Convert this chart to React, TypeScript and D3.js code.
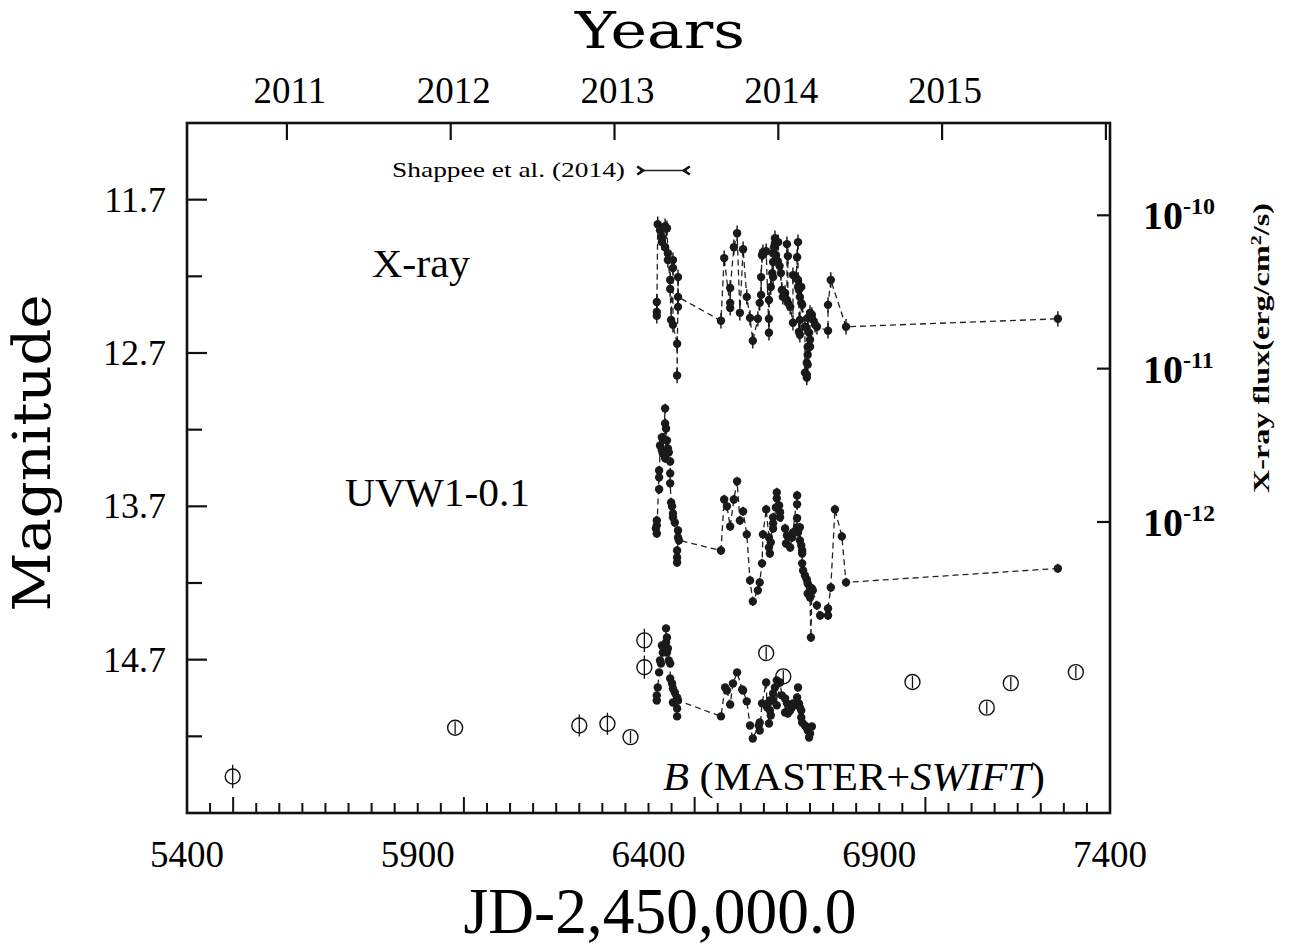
import * as d3 from "d3"
import React = require("react")

// X-ray light curve: [JD-2450000, log10 flux (erg/cm2/s)]
const xray: [number, number][] = [
  [6418, -10.565], [6418, -10.63], [6418, -10.656], [6420, -10.058], [6425, -10.097], [6429, -10.143],
  [6429, -10.175], [6436, -10.071], [6436, -10.208], [6440, -10.084], [6442, -10.247], [6442, -10.292],
  [6447, -10.422], [6447, -10.481], [6449, -10.682], [6453, -10.292], [6453, -10.344], [6453, -10.714],
  [6462, -10.838], [6462, -11.045], [6464, -10.403], [6464, -10.597], [6464, -10.532],
  [6557, -10.688], [6564, -10.279], [6577, -10.604], [6577, -10.571], [6577, -10.474], [6585, -10.208],
  [6592, -10.117], [6598, -10.636], [6605, -10.221], [6613, -10.532], [6620, -10.669], [6626, -10.818],
  [6637, -10.675], [6641, -10.571], [6644, -10.519], [6644, -10.403], [6646, -10.26], [6648, -10.24],
  [6655, -10.234], [6661, -10.766], [6661, -10.675], [6661, -10.552], [6665, -10.468], [6668, -10.377],
  [6670, -10.403], [6670, -10.305], [6670, -10.247], [6672, -10.208], [6674, -10.182], [6674, -10.149],
  [6676, -10.26], [6680, -10.3], [6681, -10.175], [6684, -10.33], [6687, -10.377], [6689, -10.487],
  [6691, -10.532], [6696, -10.506], [6700, -10.552], [6700, -10.188], [6702, -10.266], [6702, -10.571],
  [6707, -10.597], [6713, -10.701], [6713, -10.39], [6720, -10.409], [6722, -10.273], [6724, -10.175],
  [6724, -10.422], [6724, -10.468], [6726, -10.487], [6726, -10.76], [6728, -10.779], [6728, -10.682],
  [6728, -10.532], [6731, -10.468], [6731, -10.571], [6733, -10.584], [6739, -10.727], [6739, -11.026],
  [6743, -11.058], [6743, -11.039], [6743, -10.961], [6745, -10.974], [6745, -10.909], [6745, -10.857],
  [6745, -10.669], [6748, -10.766], [6750, -10.857], [6750, -10.812], [6750, -10.636], [6754, -10.649],
  [6756, -10.682], [6761, -10.714], [6765, -10.727], [6789, -10.753], [6789, -10.584], [6795, -10.422],
  [6828, -10.727], [7287, -10.675],
]

// UVW1 - 0.1 mag
const uvw1: [number, number][] = [
  [6416, 13.844], [6418, 13.792], [6418, 13.824], [6418, 13.877], [6423, 13.466], [6423, 13.511],
  [6423, 13.589], [6425, 13.303], [6429, 13.25], [6429, 13.335], [6431, 13.257], [6431, 13.355],
  [6436, 13.061], [6436, 13.159], [6436, 13.387], [6438, 13.192], [6440, 13.27], [6442, 13.322],
  [6444, 13.348], [6447, 13.407], [6447, 13.485], [6447, 13.55], [6449, 13.674], [6451, 13.7],
  [6453, 13.746], [6453, 13.772], [6457, 13.805], [6462, 13.988], [6462, 14.033], [6462, 14.066],
  [6464, 13.857], [6464, 13.903], [6466, 13.922],
  [6557, 13.988], [6564, 13.655], [6570, 13.7], [6577, 13.831], [6585, 13.655], [6592, 13.537],
  [6598, 13.792], [6605, 13.733], [6613, 13.883], [6620, 14.183], [6626, 14.32], [6637, 14.248],
  [6641, 14.196], [6646, 14.072], [6648, 13.883], [6655, 13.72], [6661, 13.903], [6661, 13.968],
  [6663, 14.007], [6665, 13.935], [6670, 13.772], [6670, 13.811], [6670, 13.844], [6676, 13.707],
  [6678, 13.609], [6678, 13.648], [6683, 13.694], [6685, 13.739], [6685, 13.772], [6696, 13.844],
  [6698, 13.942], [6700, 13.89], [6707, 13.968], [6711, 13.903], [6713, 13.87], [6722, 13.629],
  [6722, 13.687], [6722, 13.778], [6722, 13.837], [6724, 13.87], [6728, 13.837], [6728, 13.922],
  [6731, 13.955], [6733, 13.988], [6733, 14.007], [6733, 14.072], [6735, 14.118], [6739, 14.151],
  [6743, 14.177], [6745, 14.203], [6745, 14.268], [6750, 14.229], [6750, 14.294], [6752, 14.555],
  [6754, 14.235], [6756, 14.248], [6765, 14.346], [6772, 14.412], [6789, 14.412], [6789, 14.366],
  [6795, 14.229], [6804, 13.72], [6819, 13.896], [6828, 14.196], [7287, 14.105],
]

// B band (SWIFT + MASTER dense coverage)
const bBand: [number, number][] = [
  [6418, 14.933], [6418, 14.966], [6420, 14.881], [6423, 14.783], [6425, 14.705], [6427, 14.725],
  [6429, 14.607], [6431, 14.653], [6436, 14.62], [6438, 14.496], [6438, 14.588], [6440, 14.555],
  [6440, 14.653], [6442, 14.627], [6444, 14.705], [6447, 14.725], [6447, 14.823], [6451, 14.855],
  [6453, 14.888], [6453, 14.979], [6457, 14.914], [6462, 14.946], [6462, 15.018], [6462, 15.07],
  [6464, 14.966],
  [6557, 15.07], [6566, 14.881], [6570, 14.901], [6577, 14.992], [6583, 14.855], [6592, 14.783],
  [6603, 14.894], [6605, 14.901], [6613, 14.972], [6620, 15.129], [6626, 15.214], [6639, 15.129],
  [6641, 15.11], [6641, 15.162], [6646, 14.985], [6655, 14.849], [6657, 15.011], [6659, 14.985],
  [6661, 15.116], [6663, 14.966], [6663, 15.031], [6665, 15.064], [6670, 14.92], [6670, 14.966],
  [6674, 14.881], [6678, 14.835], [6678, 14.998], [6685, 14.849], [6689, 14.933], [6696, 14.953],
  [6696, 15.044], [6700, 14.985], [6702, 15.051], [6707, 15.031], [6711, 15.011], [6713, 14.985],
  [6722, 14.946], [6724, 14.881], [6726, 14.985], [6728, 15.011], [6731, 15.031], [6731, 15.077],
  [6733, 15.11], [6739, 15.129], [6743, 15.142], [6745, 15.162], [6748, 15.208], [6750, 15.181],
  [6754, 15.136],
]

// MASTER sparse points: [JD, mag, error]
const master: [number, number, number][] = [
  [5499, 15.462, 0.076], [5981, 15.144, 0.04], [6250, 15.129, 0.072], [6311, 15.118, 0.072],
  [6361, 15.205, 0.04], [6391, 14.574, 0.076], [6391, 14.749, 0.076], [6655, 14.657, 0.04],
  [6692, 14.809, 0.04], [6972, 14.846, 0.04], [7133, 15.013, 0.04], [7185, 14.853, 0.04],
  [7326, 14.781, 0.04],
]

const shappeeRange = [6382, 6483]
const shappeeMag = 11.51

const jdTicks = [5400, 5900, 6400, 6900, 7400]
const magTicks = [11.7, 12.7, 13.7, 14.7]
const magHalfTicks = [12.2, 13.2, 14.2, 15.2]
const yearTicks = [2011, 2012, 2013, 2014, 2015, 2016]
const yearLabels = ["2011", "2012", "2013", "2014", "2015", ""]
const fluxTicks = [-10, -11, -12]
const fluxLabels = ["-10", "-11", "-12"]

const W = 1294
const H = 949
const L = 187, R = 1110, T = 123, B = 813

const App = () => {
  const x = d3.scaleLinear().domain([5400, 7400]).range([L, R])
  const y = d3.scaleLinear().domain([11.2, 15.7]).range([T, B])
  const yFlux = d3.scaleLinear().domain([-9.398, -13.898]).range([T, B])
  const xYear = d3.scaleLinear().domain([2010.39, 2016.025]).range([L, R])

  const lineMag = d3.line<[number, number]>().x(d => x(d[0])).y(d => y(d[1]))
  const lineFlux = d3.line<[number, number]>().x(d => x(d[0])).y(d => yFlux(d[1]))

  const minorJD = d3.range(5450, 7400, 50)
  const serif = "'Liberation Serif', 'Times New Roman', serif"
  const wide = "'DejaVu Serif', serif"

  const dots = (pts: [number, number][], yy: (v: number) => number, err: number, key: string) =>
    pts.map((d, i) => (
      <g key={key + i}>
        <line x1={x(d[0])} x2={x(d[0])} y1={yy(d[1] - err)} y2={yy(d[1] + err)} stroke="#111" strokeWidth={1.4} />
        <circle cx={x(d[0])} cy={yy(d[1])} r={4.2} fill="#1a1a1a" />
      </g>
    ))

  return (
    <svg width={W} height={H} style={{ position: "absolute", left: 0, top: 0, background: "#fff" }} fontFamily={serif}>
      <rect x={0} y={0} width={W} height={H} fill="#fff" />

      {/* dashed connecting lines */}
      <path d={lineFlux(xray)} fill="none" stroke="#222" strokeWidth={1.3} strokeDasharray="6,4" />
      <path d={lineMag(uvw1)} fill="none" stroke="#222" strokeWidth={1.3} strokeDasharray="6,4" />
      <path d={lineMag(bBand)} fill="none" stroke="#222" strokeWidth={1.3} strokeDasharray="6,4" />

      {dots(xray, yFlux, 0.05, "x")}
      {dots(uvw1, y, 0.03, "u")}
      {dots(bBand, y, 0.02, "b")}

      {master.map((d, i) => (
        <g key={"m" + i}>
          <line x1={x(d[0])} x2={x(d[0])} y1={y(d[1] - d[2])} y2={y(d[1] + d[2])} stroke="#111" strokeWidth={1.3} />
          <circle cx={x(d[0])} cy={y(d[1])} r={7.5} fill="none" stroke="#111" strokeWidth={1.4} />
        </g>
      ))}

      {/* Shappee et al. interval */}
      <line x1={x(shappeeRange[0])} x2={x(shappeeRange[1])} y1={y(shappeeMag)} y2={y(shappeeMag)} stroke="#222" strokeWidth={1.4} />
      <path d={`M${x(shappeeRange[0]) - 3},${y(shappeeMag) - 4} L${x(shappeeRange[0]) + 3},${y(shappeeMag)} L${x(shappeeRange[0]) - 3},${y(shappeeMag) + 4}`} fill="none" stroke="#111" strokeWidth={2.6} />
      <path d={`M${x(shappeeRange[1]) + 3},${y(shappeeMag) - 4} L${x(shappeeRange[1]) - 3},${y(shappeeMag)} L${x(shappeeRange[1]) + 3},${y(shappeeMag) + 4}`} fill="none" stroke="#111" strokeWidth={2.6} />
      <text x={392} y={177} fontSize={22} textLength={233} lengthAdjust="spacingAndGlyphs">Shappee  et al. (2014)</text>

      {/* frame */}
      <rect x={L} y={T} width={R - L} height={B - T} fill="none" stroke="#111" strokeWidth={2.6} />

      {/* bottom ticks */}
      {minorJD.map(v => (
        <line key={"jm" + v} x1={x(v)} x2={x(v)} y1={B} y2={B - (v % 500 === 0 ? 16 : 10)} stroke="#111" strokeWidth={2} />
      ))}
      {jdTicks.map(v => (
        <text key={"jl" + v} x={x(v)} y={867} fontSize={37} textAnchor="middle">{v}</text>
      ))}

      {/* left ticks */}
      {magTicks.map(v => (
        <g key={"mt" + v}>
          <line x1={L} x2={L + 20} y1={y(v)} y2={y(v)} stroke="#111" strokeWidth={2.2} />
          <text x={166} y={y(v) + 12} fontSize={36} textAnchor="end">{v.toFixed(1)}</text>
        </g>
      ))}
      {magHalfTicks.map(v => (
        <line key={"mh" + v} x1={L} x2={L + 15} y1={y(v)} y2={y(v)} stroke="#111" strokeWidth={2.2} />
      ))}

      {/* top year ticks */}
      {yearTicks.map((v, i) => (
        <g key={"yr" + v}>
          <line x1={xYear(v)} x2={xYear(v)} y1={T} y2={T + 17} stroke="#111" strokeWidth={2.2} />
          <text x={xYear(v) + 3} y={103} fontSize={37} textAnchor="middle">{yearLabels[i]}</text>
        </g>
      ))}

      {/* right flux ticks */}
      {fluxTicks.map((v, i) => (
        <g key={"ft" + v}>
          <line x1={R} x2={R - 13} y1={yFlux(v)} y2={yFlux(v)} stroke="#111" strokeWidth={2.2} />
          <text x={1143} y={yFlux(v) + 14} fontSize={40} fontWeight="bold">
            10<tspan dy={-15} fontSize={24}>{fluxLabels[i]}</tspan>
          </text>
        </g>
      ))}

      {/* axis titles */}
      <text x={660} y={48} fontFamily={wide} fontSize={50} textAnchor="middle" textLength={170} lengthAdjust="spacingAndGlyphs">Years</text>
      <text transform={`translate(50,453) rotate(-90)`} fontFamily={wide} fontSize={52} textAnchor="middle" textLength={317} lengthAdjust="spacingAndGlyphs">Magnitude</text>
      <text x={660} y={933} fontSize={66} textAnchor="middle" textLength={393} lengthAdjust="spacingAndGlyphs">JD-2,450,000.0</text>
      <text transform={`translate(1269,348) rotate(-90)`} fontSize={24} fontWeight="bold" textAnchor="middle" textLength={290} lengthAdjust="spacingAndGlyphs">
        X-ray flux(erg/cm<tspan dy={-8} fontSize={15}>2</tspan><tspan dy={8}>/s)</tspan>
      </text>

      {/* series labels */}
      <text x={372} y={277} fontSize={40} textLength={98} lengthAdjust="spacingAndGlyphs">X-ray</text>
      <text x={345} y={506} fontSize={40} textLength={185} lengthAdjust="spacingAndGlyphs">UVW1-0.1</text>
      <text x={663} y={790} fontSize={41} textLength={382} lengthAdjust="spacingAndGlyphs">
        <tspan fontStyle="italic">B</tspan> (MASTER+<tspan fontStyle="italic">SWIFT</tspan>)
      </text>
    </svg>
  )
}

export default App
